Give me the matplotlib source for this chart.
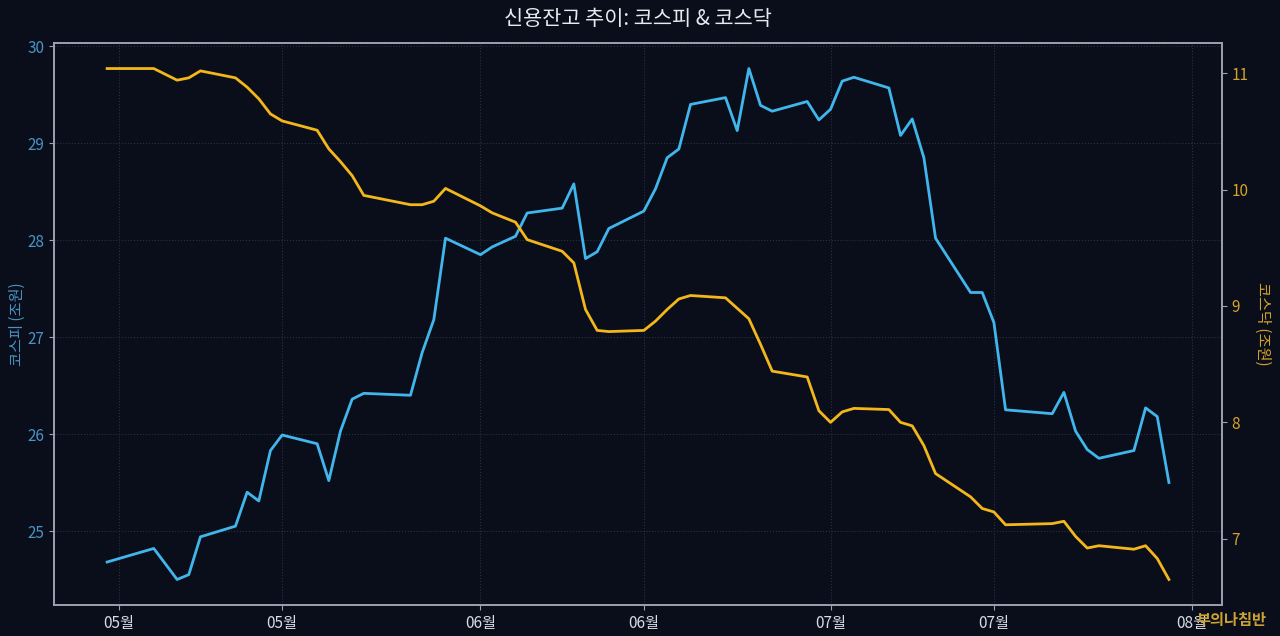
import matplotlib
matplotlib.use("Agg")
import matplotlib.pyplot as plt
import matplotlib.dates as mdates
import pandas as pd

# data (조원)
dates = [
    "2026-04-30", "2026-05-04", "2026-05-06", "2026-05-07", "2026-05-08",
    "2026-05-11", "2026-05-12", "2026-05-13", "2026-05-14", "2026-05-15",
    "2026-05-18", "2026-05-19", "2026-05-20", "2026-05-21", "2026-05-22",
    "2026-05-26", "2026-05-27", "2026-05-28", "2026-05-29",
    "2026-06-01", "2026-06-02", "2026-06-04", "2026-06-05",
    "2026-06-08", "2026-06-09", "2026-06-10", "2026-06-11", "2026-06-12",
    "2026-06-15", "2026-06-16", "2026-06-17", "2026-06-18", "2026-06-19",
    "2026-06-22", "2026-06-23", "2026-06-24", "2026-06-25", "2026-06-26",
    "2026-06-29", "2026-06-30", "2026-07-01", "2026-07-02", "2026-07-03",
    "2026-07-06", "2026-07-07", "2026-07-08", "2026-07-09", "2026-07-10",
    "2026-07-13", "2026-07-14", "2026-07-15", "2026-07-16",
    "2026-07-20", "2026-07-21", "2026-07-22", "2026-07-23", "2026-07-24",
    "2026-07-27", "2026-07-28", "2026-07-29", "2026-07-30",
]
kospi = [
    24.68, 24.82, 24.50, 24.55, 24.94,
    25.05, 25.40, 25.31, 25.83, 25.99,
    25.90, 25.52, 26.03, 26.36, 26.42,
    26.40, 26.84, 27.18, 28.02,
    27.85, 27.93, 28.04, 28.28,
    28.33, 28.58, 27.81, 27.88, 28.12,
    28.30, 28.53, 28.85, 28.94, 29.40,
    29.47, 29.13, 29.77, 29.39, 29.33,
    29.43, 29.24, 29.35, 29.64, 29.68,
    29.57, 29.08, 29.25, 28.85, 28.02,
    27.46, 27.46, 27.15, 26.25,
    26.21, 26.43, 26.03, 25.84, 25.75,
    25.83, 26.27, 26.18, 25.50,
]
kosdaq = [
    11.04, 11.04, 10.94, 10.96, 11.02,
    10.96, 10.88, 10.78, 10.65, 10.59,
    10.51, 10.35, 10.24, 10.12, 9.95,
    9.87, 9.87, 9.90, 10.01,
    9.86, 9.80, 9.72, 9.57,
    9.47, 9.37, 8.97, 8.79, 8.78,
    8.79, 8.87, 8.97, 9.06, 9.09,
    9.07, 8.98, 8.89, 8.67, 8.44,
    8.39, 8.10, 8.00, 8.09, 8.12,
    8.11, 8.00, 7.97, 7.80, 7.56,
    7.36, 7.26, 7.23, 7.12,
    7.13, 7.15, 7.02, 6.92, 6.94,
    6.91, 6.94, 6.83, 6.65,
]

x = pd.to_datetime(dates)

bg = "#0a0e1a"
blue = "#41b6ec"
gold = "#f3b71b"
blue_lbl = "#4a93c6"
gold_lbl = "#d4a42a"
spine_col = "#9aa3b3"

plt.rcParams["font.family"] = ["Noto Sans CJK KR", "DejaVu Sans"]

fig = plt.figure(figsize=(12.8, 6.36), dpi=100, facecolor=bg)
ax = fig.add_axes([0.0422, 0.0487, 0.9125, 0.8837])
ax.set_facecolor(bg)
ax2 = ax.twinx()

ax.plot(x, kospi, color=blue, linewidth=2.0, zorder=3)
ax2.plot(x, kosdaq, color=gold, linewidth=2.0, zorder=3)

# ticks on the 1st and 15th of each month
ax.xaxis.set_major_locator(mdates.DayLocator(bymonthday=[1, 15]))
ax.xaxis.set_major_formatter(mdates.DateFormatter("%m월"))

ax.grid(True, color="#2a3142", linestyle=":", linewidth=0.8)
ax.set_axisbelow(True)

ax.tick_params(axis="x", colors=spine_col, labelcolor="#d8dce4", labelsize=11)
ax.tick_params(axis="y", colors=spine_col, labelcolor=blue_lbl, labelsize=11)
ax2.tick_params(axis="y", colors=spine_col, labelcolor=gold_lbl, labelsize=11)

for a in (ax, ax2):
    for s in a.spines.values():
        s.set_color(spine_col)
        s.set_linewidth(1.2)

ax.set_ylabel("코스피 (조원)", color=blue_lbl, fontsize=11, labelpad=1)
ax2.set_ylabel("코스닥 (조원)", color=gold_lbl, fontsize=11, rotation=270, labelpad=16)

fig.text(0.498, 0.970, "신용잔고 추이: 코스피 & 코스닥", color="#e8eaf0",
         fontsize=15, ha="center", va="center")

# watermark
fig.text(0.989, 0.025, "부의나침반", color="#c9a232", fontsize=11,
         fontweight="bold", ha="right", va="center")

fig.savefig("out.png", dpi=100, facecolor=bg)
